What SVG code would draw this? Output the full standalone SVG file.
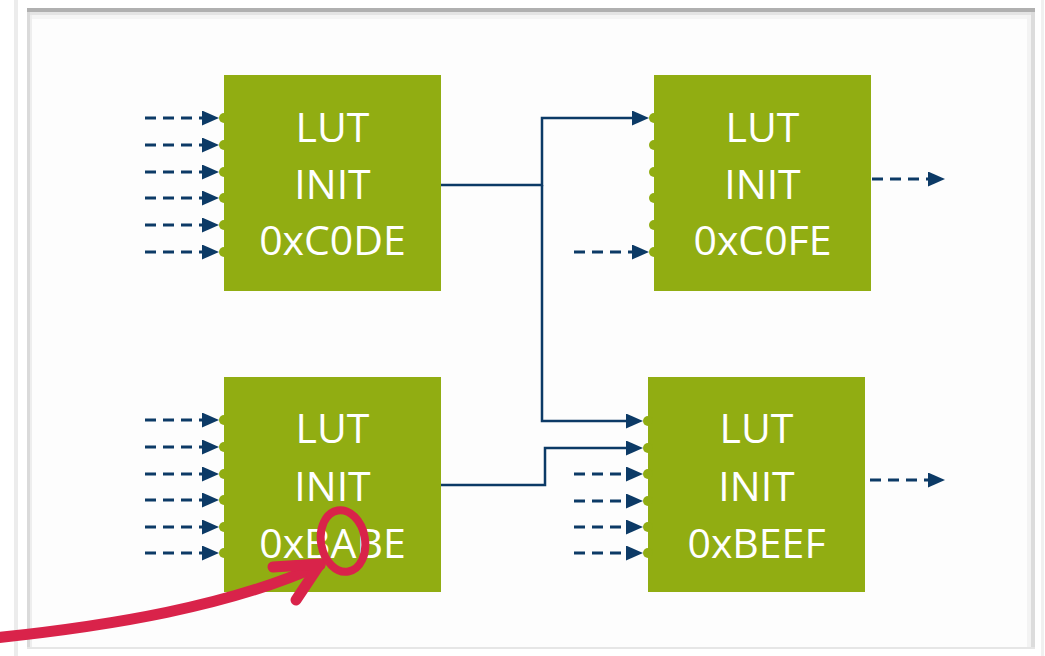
<svg xmlns="http://www.w3.org/2000/svg" width="1045" height="656" viewBox="0 0 1045 656">
  <defs>
    <marker id="head" viewBox="0 0 17 15" refX="0" refY="7.5" markerWidth="17" markerHeight="15" markerUnits="userSpaceOnUse" orient="auto">
      <path d="M0,0 L17,7.5 L0,15 z" fill="#0c3a66"/>
    </marker>
    <style>
      .lut { fill: #91ad12; }
      .pin { fill: #91ad12; }
      .lbl { font-family: "Open Sans", "Noto Sans", "Liberation Sans", sans-serif; font-size: 41px; fill: #ffffff; text-anchor: middle; }
      .dash { fill: none; stroke: #0c3a66; stroke-width: 3; stroke-dasharray: 11 7; marker-end: url(#head); }
      .wire { fill: none; stroke: #0c3a66; stroke-width: 2.5; marker-end: url(#head); }
      .note { fill: none; stroke: #d9234a; stroke-width: 11; stroke-linecap: round; stroke-linejoin: round; }
    </style>
  </defs>

  <!-- page and frame -->
  <rect x="0" y="0" width="1045" height="656" fill="#ffffff"/>
  <rect x="14" y="0" width="4" height="656" fill="#ececec"/>
  <rect x="1041" y="0" width="3" height="656" fill="#f0f0f0"/>
  <rect x="27" y="8" width="1008" height="641" fill="#fdfdfd"/>
  <rect x="27" y="8" width="1008" height="4" fill="#b0b0b0"/>
  <rect x="27" y="12" width="1008" height="3" fill="#e4e4e4"/>
  <rect x="30" y="15" width="1000" height="4" fill="#f5f5f5"/>
  <rect x="27" y="12" width="3" height="637" fill="#dadada"/>
  <rect x="30" y="15" width="2" height="634" fill="#eeeeee"/>
  <rect x="1031" y="12" width="4" height="637" fill="#dcdcdc"/>
  <rect x="1027" y="15" width="4" height="634" fill="#f3f3f3"/>
  <rect x="27" y="647" width="1008" height="2" fill="#e6e6e6"/>

  <!-- connectors -->
  <g id="connectors">
    <!-- inputs of LUT 0xC0DE -->
    <path class="dash" d="M145 118 H202"/>
    <path class="dash" d="M145 145 H202"/>
    <path class="dash" d="M145 172 H202"/>
    <path class="dash" d="M145 198 H202"/>
    <path class="dash" d="M145 225 H202"/>
    <path class="dash" d="M145 252 H202"/>
    <!-- inputs of LUT 0xBABE -->
    <path class="dash" d="M145 420 H202"/>
    <path class="dash" d="M145 447 H202"/>
    <path class="dash" d="M145 474 H202"/>
    <path class="dash" d="M145 500 H202"/>
    <path class="dash" d="M145 527 H202"/>
    <path class="dash" d="M145 553 H202"/>
    <!-- free input of LUT 0xC0FE -->
    <path class="dash" d="M574 252 H632"/>
    <!-- free inputs of LUT 0xBEEF -->
    <path class="dash" d="M574 474 H626"/>
    <path class="dash" d="M574 501 H626"/>
    <path class="dash" d="M574 527 H626"/>
    <path class="dash" d="M574 553 H626"/>
    <!-- outputs -->
    <path class="dash" d="M872 179 H928"/>
    <path class="dash" d="M870 480 H928"/>
    <!-- 0xC0DE fans out to 0xC0FE and 0xBEEF -->
    <path class="wire" d="M441 185 H542 V118 H632"/>
    <path class="wire" d="M542 185 V421 H626"/>
    <!-- 0xBABE feeds 0xBEEF -->
    <path class="wire" d="M441 485 H545 V448 H626"/>
  </g>

  <g id="lut-c0de">
    <rect class="lut" x="224" y="75" width="217" height="216"/>
    <circle class="pin" cx="224" cy="118" r="5"/>
    <circle class="pin" cx="224" cy="145" r="5"/>
    <circle class="pin" cx="224" cy="172" r="5"/>
    <circle class="pin" cx="224" cy="198" r="5"/>
    <circle class="pin" cx="224" cy="225" r="5"/>
    <circle class="pin" cx="224" cy="252" r="5"/>
    <text class="lbl" x="332.5" y="142">LUT</text>
    <text class="lbl" x="332.5" y="199">INIT</text>
    <text class="lbl" x="332.5" y="255">0xC0DE</text>
  </g>

  <g id="lut-c0fe">
    <rect class="lut" x="654" y="75" width="217" height="216"/>
    <circle class="pin" cx="654" cy="118" r="5"/>
    <circle class="pin" cx="654" cy="145" r="5"/>
    <circle class="pin" cx="654" cy="172" r="5"/>
    <circle class="pin" cx="654" cy="198" r="5"/>
    <circle class="pin" cx="654" cy="225" r="5"/>
    <circle class="pin" cx="654" cy="252" r="5"/>
    <text class="lbl" x="762.5" y="142">LUT</text>
    <text class="lbl" x="762.5" y="199">INIT</text>
    <text class="lbl" x="762.5" y="255">0xC0FE</text>
  </g>

  <g id="lut-babe">
    <rect class="lut" x="224" y="377" width="217" height="215"/>
    <circle class="pin" cx="224" cy="420" r="5"/>
    <circle class="pin" cx="224" cy="447" r="5"/>
    <circle class="pin" cx="224" cy="474" r="5"/>
    <circle class="pin" cx="224" cy="500" r="5"/>
    <circle class="pin" cx="224" cy="527" r="5"/>
    <circle class="pin" cx="224" cy="553" r="5"/>
    <text class="lbl" x="332.5" y="443">LUT</text>
    <text class="lbl" x="332.5" y="501">INIT</text>
    <text class="lbl" x="332.5" y="558">0xBABE</text>
  </g>

  <g id="lut-beef">
    <rect class="lut" x="648" y="377" width="217" height="215"/>
    <circle class="pin" cx="648" cy="421" r="5"/>
    <circle class="pin" cx="648" cy="448" r="5"/>
    <circle class="pin" cx="648" cy="474" r="5"/>
    <circle class="pin" cx="648" cy="501" r="5"/>
    <circle class="pin" cx="648" cy="527" r="5"/>
    <circle class="pin" cx="648" cy="553" r="5"/>
    <text class="lbl" x="756.5" y="443">LUT</text>
    <text class="lbl" x="756.5" y="501">INIT</text>
    <text class="lbl" x="756.5" y="558">0xBEEF</text>
  </g>

  <!-- hand-drawn callout on the A of 0xBABE -->
  <g id="callout">
    <path class="note" d="M-6 638 C 110 626, 230 606, 320 565"/>
    <path class="note" d="M273 567 L320 564 L296 600"/>
    <ellipse cx="343" cy="541" rx="22" ry="31" transform="rotate(-10 343 541)" fill="none" stroke="#d9234a" stroke-width="8"/>
  </g>
</svg>
